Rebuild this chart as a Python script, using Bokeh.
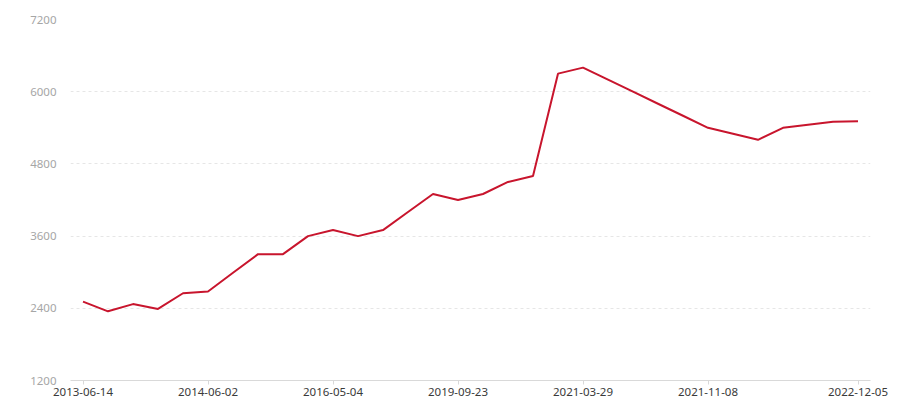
from bokeh.plotting import figure
from bokeh.models import ColumnDataSource, FixedTicker, Range1d
from bokeh.embed import file_html
from bokeh.resources import INLINE

values = [2510, 2350, 2470, 2390, 2650, 2680, 2990, 3300, 3300, 3600,
          3700, 3600, 3700, 4000, 4300, 4200, 4300, 4500, 4600, 6300,
          6400, 6200, 6000, 5800, 5600, 5400, 5300, 5200, 5400, 5450,
          5500, 5510]
tick_index = [0, 5, 10, 15, 20, 25, 31]
tick_labels = ["2013-06-14", "2014-06-02", "2016-05-04", "2019-09-23",
               "2021-03-29", "2021-11-08", "2022-12-05"]
y_ticks = [1200, 2400, 3600, 4800, 6000, 7200]

idx = list(range(len(values)))
src = ColumnDataSource(dict(x=idx, y=values))

p = figure(width=900, height=400, output_backend="svg", toolbar_location=None,
           x_range=Range1d(-0.5, len(values) - 0.5), y_range=Range1d(1200, 7200),
           min_border_left=70, min_border_right=30, min_border_top=19,
           min_border_bottom=20)
p.outline_line_color = None
p.background_fill_color = "white"
p.border_fill_color = "white"

p.line("x", "y", source=src, line_color="#c8152d", line_width=2)

FONT = "Noto Sans"
# x axis
p.xaxis.ticker = FixedTicker(ticks=tick_index)
p.xaxis.major_label_overrides = {i: l for i, l in zip(tick_index, tick_labels)}
p.xaxis.axis_line_color = "#d9d9d9"
p.xaxis.major_tick_line_color = "#d9d9d9"
p.xaxis.major_tick_out = 4
p.xaxis.major_tick_in = 0
p.xaxis.minor_tick_line_color = None
p.xaxis.major_label_standoff = 3
p.xaxis.major_label_text_color = "#3a3a3a"
p.xaxis.major_label_text_font = FONT
p.xaxis.major_label_text_font_size = "11.5px"
p.xgrid.grid_line_color = None

# y axis
p.yaxis.ticker = FixedTicker(ticks=y_ticks)
p.yaxis.axis_line_color = None
p.yaxis.major_tick_line_color = None
p.yaxis.minor_tick_line_color = None
p.yaxis.major_label_standoff = 8
p.yaxis.major_label_text_color = "#a6a6a6"
p.yaxis.major_label_text_font = FONT
p.yaxis.major_label_text_font_size = "11.5px"
p.ygrid.grid_line_color = "#e6e6e6"
p.ygrid.grid_line_dash = "3 3"
p.ygrid.grid_line_width = 1

open("out.html", "w").write(file_html(p, INLINE))
